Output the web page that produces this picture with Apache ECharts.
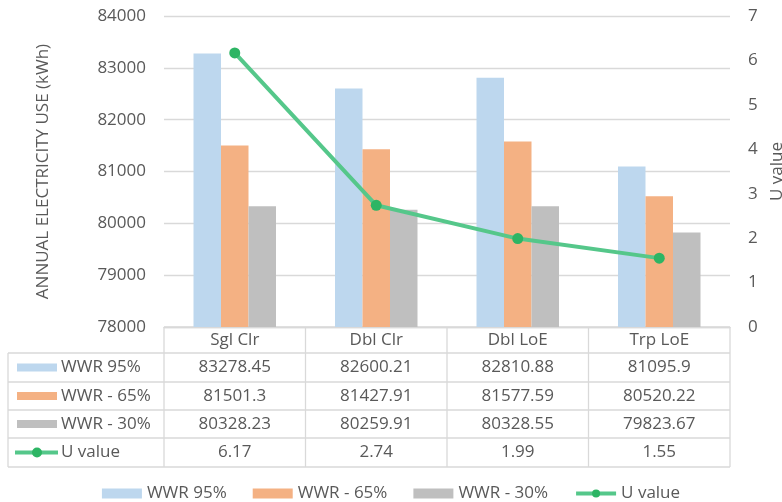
<!DOCTYPE html>
<html>
<head>
<meta charset="utf-8">
<script src="https://cdn.jsdelivr.net/npm/echarts@6/dist/echarts.min.js"></script>
<style>
  html, body { margin: 0; padding: 0; background: #fff; }
  #chart { width: 782px; height: 502px; }
</style>
</head>
<body>
<div id="chart"></div>
<script>
// Glazing types along the x axis
const categories = ['Sgl Clr', 'Dbl Clr', 'Dbl LoE', 'Trp LoE'];
// Annual electricity use (kWh) per window-to-wall ratio
const wwr95 = [83278.45, 82600.21, 82810.88, 81095.9];
const wwr65 = [81501.3, 81427.91, 81577.59, 80520.22];
const wwr30 = [80328.23, 80259.91, 80328.55, 79823.67];
// Glazing U value
const uValue = [6.17, 2.74, 1.99, 1.55];
// Series names as shown in the legend and table
const seriesNames = ['WWR 95%', 'WWR - 65%', 'WWR - 30%', 'U value'];
// Axis ranges
const leftAxis = { min: 78000, max: 84000, interval: 1000 };
const rightAxis = { min: 0, max: 7, interval: 1 };

const FONT = 'Open Sans';
const FS = 17;
const TXT = '#595959';
const GRIDC = '#d9d9d9';
const colors = ['#BDD7EE', '#F4B183', '#BFBFBF', '#55C78A'];
const markerColor = '#2DB564';

// Plot area
const G = { left: 164, right: 52, top: 16, bottom: 175 };
const W = 782, H = 502;
const plotL = G.left, plotR = W - G.right, plotB = H - G.bottom;
const colW = (plotR - plotL) / categories.length;

// Data table geometry
const tableLeft = 8;
const rowEdges = [353, 382, 410, 438, 467];
const tableRows = [wwr95, wwr65, wwr30, uValue];

const graphics = [];
const line = (x1, y1, x2, y2) => ({
  type: 'line', silent: true,
  shape: { x1, y1, x2, y2 },
  style: { stroke: GRIDC, lineWidth: 1.3 }
});
// vertical borders of the category columns
for (let i = 0; i <= categories.length; i++) {
  const x = plotL + colW * i;
  graphics.push(line(x, plotB, x, rowEdges[rowEdges.length - 1]));
}
// left border of the series-name column
graphics.push(line(tableLeft, rowEdges[0], tableLeft, rowEdges[rowEdges.length - 1]));
// horizontal row borders
rowEdges.forEach(y => graphics.push(line(tableLeft, y, plotR, y)));
graphics.push(line(plotL, plotB, plotR, plotB));

const fontStr = FS + 'px "' + FONT + '"';
tableRows.forEach((vals, r) => {
  const cy = (rowEdges[r] + rowEdges[r + 1]) / 2;
  // legend key inside the table
  if (r < 3) {
    graphics.push({
      type: 'rect', silent: true,
      shape: { x: 17, y: cy - 4, width: 40, height: 8 },
      style: { fill: colors[r] }
    });
  } else {
    graphics.push({
      type: 'line', silent: true,
      shape: { x1: 15, y1: cy, x2: 58, y2: cy },
      style: { stroke: colors[3], lineWidth: 4 }
    });
    graphics.push({
      type: 'circle', silent: true,
      shape: { cx: 37, cy: cy, r: 5 },
      style: { fill: markerColor }
    });
  }
  graphics.push({
    type: 'text', silent: true,
    x: 61, y: cy,
    style: { text: seriesNames[r], font: fontStr, fill: TXT, verticalAlign: 'middle', align: 'left' }
  });
  vals.forEach((v, c) => {
    graphics.push({
      type: 'text', silent: true,
      x: plotL + colW * (c + 0.5), y: cy,
      style: { text: String(v), font: fontStr, fill: TXT, verticalAlign: 'middle', align: 'center' }
    });
  });
});

const barSeries = [wwr95, wwr65, wwr30].map((d, i) => ({
  name: seriesNames[i],
  type: 'bar',
  data: d,
  barWidth: 27.5,
  barGap: '0%',
  itemStyle: { color: colors[i] },
  emphasis: { disabled: true }
}));

const chart = echarts.init(document.getElementById('chart'), null, { renderer: 'canvas' });
chart.setOption({
  animation: false,
  backgroundColor: '#fff',
  textStyle: { fontFamily: FONT },
  grid: {
    left: G.left, right: G.right, top: G.top, bottom: G.bottom,
    containLabel: false, outerBoundsMode: 'none'
  },
  legend: {
    top: 480,
    left: 'center',
    itemWidth: 40,
    itemHeight: 10,
    itemGap: 26,
    textStyle: { color: TXT, fontSize: FS, fontFamily: FONT },
    data: seriesNames.map((n, i) => i < 3
      ? { name: n, icon: 'rect' }
      : { name: n, lineStyle: { width: 4, color: colors[3] }, itemStyle: { color: markerColor } })
  },
  xAxis: {
    type: 'category',
    data: categories,
    axisLine: { show: true, lineStyle: { color: GRIDC, width: 1.3 } },
    axisTick: { show: false },
    axisLabel: { color: TXT, fontSize: FS, margin: 5 }
  },
  yAxis: [
    {
      type: 'value',
      min: leftAxis.min, max: leftAxis.max, interval: leftAxis.interval,
      name: 'ANNUAL ELECTRICITY USE (kWh)',
      nameLocation: 'middle',
      nameGap: 112,
      nameTextStyle: { color: TXT, fontSize: FS },
      axisLabel: { color: TXT, fontSize: FS, margin: 18, formatter: v => String(v) },
      splitLine: { lineStyle: { color: GRIDC, width: 1.3 } },
      axisLine: { show: false }
    },
    {
      type: 'value',
      min: rightAxis.min, max: rightAxis.max, interval: rightAxis.interval,
      name: 'U value',
      nameLocation: 'middle',
      nameGap: 38,
      nameRotate: 90,
      nameTextStyle: { color: TXT, fontSize: FS },
      axisLabel: { color: TXT, fontSize: FS, margin: 18 },
      splitLine: { show: false },
      axisLine: { show: false }
    }
  ],
  series: barSeries.concat([{
    name: seriesNames[3],
    type: 'line',
    yAxisIndex: 1,
    data: uValue,
    symbol: 'circle',
    symbolSize: 11,
    lineStyle: { color: colors[3], width: 4 },
    itemStyle: { color: markerColor },
    emphasis: { disabled: true }
  }]),
  graphic: graphics
});
</script>
</body>
</html>
